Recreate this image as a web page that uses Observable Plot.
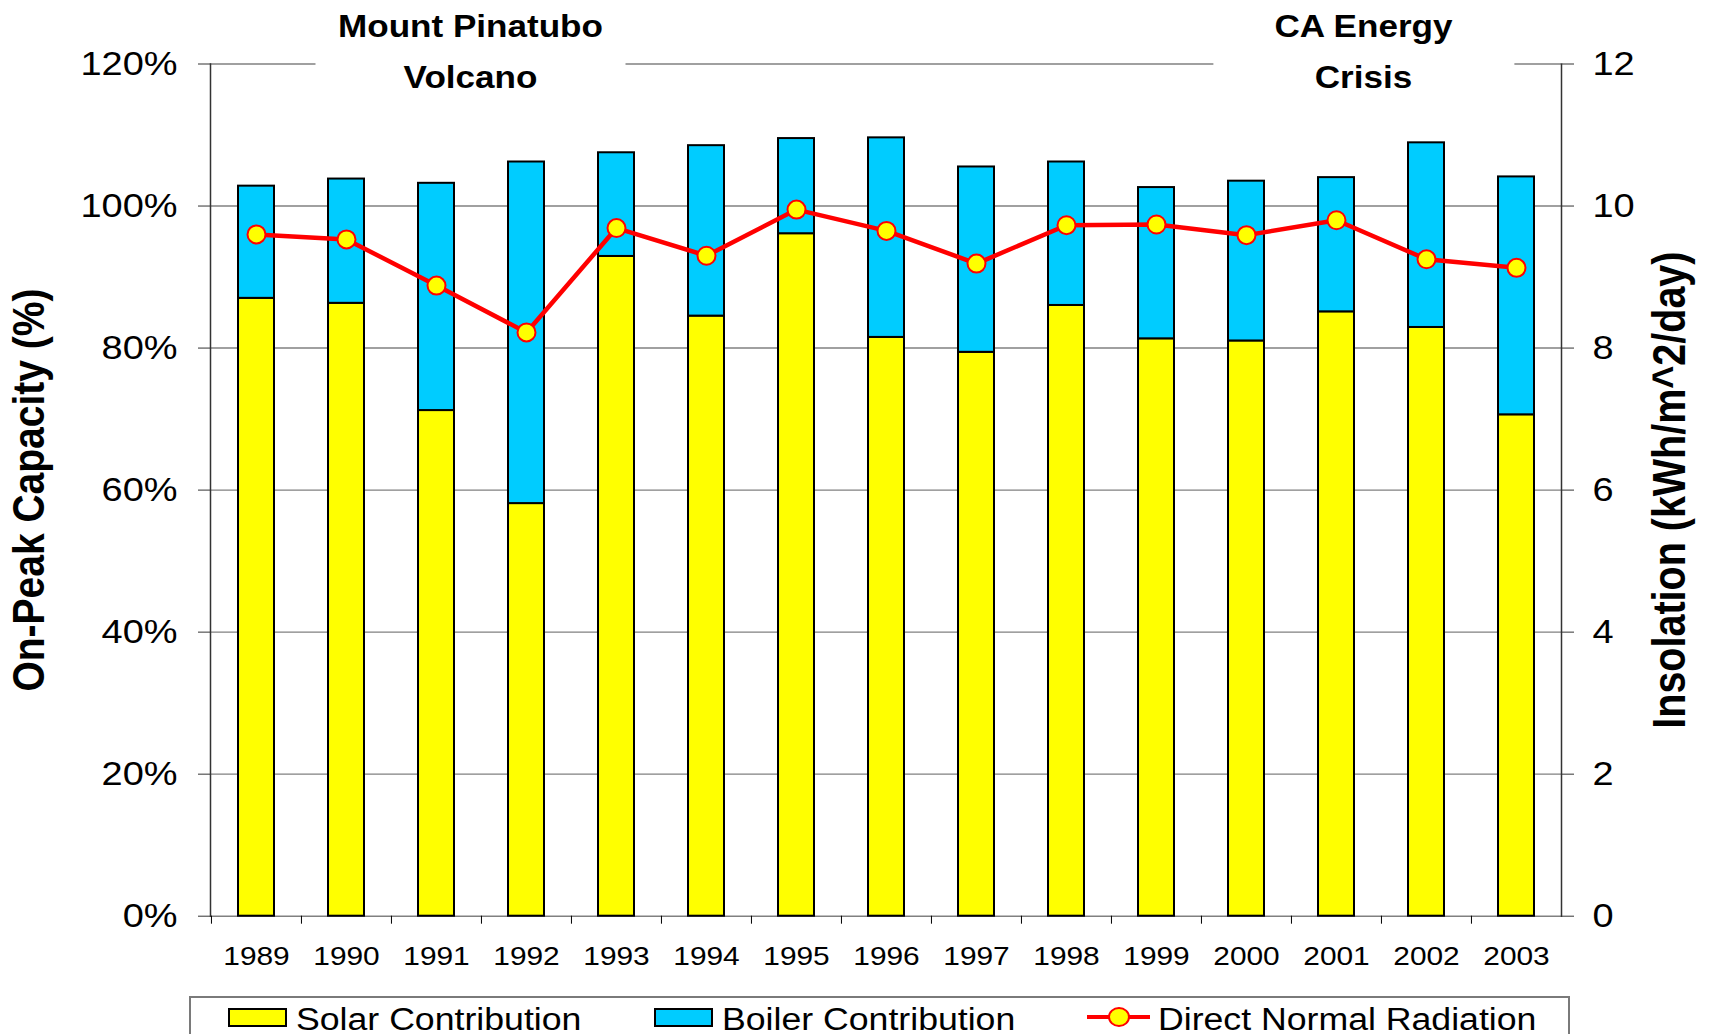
<!DOCTYPE html>
<html>
<head>
<meta charset="utf-8">
<script src="https://cdn.jsdelivr.net/npm/d3@7"></script>
<script src="https://cdn.jsdelivr.net/npm/@observablehq/plot@0.6"></script>
<style>
  html, body { margin: 0; padding: 0; background: #fff; overflow: hidden; }
  body { width: 1709px; height: 1034px; font-family: "Liberation Sans", Arial, sans-serif; }
  #legend { position: relative; width: 1709px; height: 44px; overflow: hidden; }
  #legend .box { position: absolute; left: 189px; top: 6px; width: 1381px; height: 80px; border: 2px solid #7a7a7a; box-sizing: border-box; }
  #legend .sw { position: absolute; top: 18px; width: 59px; height: 19px; border: 2px solid #000; box-sizing: border-box; }
  #legend .ln { position: absolute; top: 25px; width: 63px; height: 4px; background: #ff0000; }
  #legend .dt { position: absolute; top: 17px; width: 22px; height: 20px; border: 2px solid #ff0000; border-radius: 50%; background: #ffff00; box-sizing: border-box; }
  #legend .lt { position: absolute; top: 14px; font-size: 31px; line-height: 31px; white-space: nowrap; display: inline-block; transform: scaleX(1.15); transform-origin: left center; color: #000; }
</style>
</head>
<body>
<div id="chart"></div>
<div id="legend"></div>
<script>
// ---- data ----
const years = [1989, 1990, 1991, 1992, 1993, 1994, 1995, 1996, 1997, 1998, 1999, 2000, 2001, 2002, 2003];
const solar = [87.0, 86.3, 71.2, 58.1, 92.9, 84.5, 96.1, 81.5, 79.4, 86.0, 81.3, 81.0, 85.1, 82.9, 70.6];
const boiler = [15.8, 17.5, 32.0, 48.1, 14.6, 24.0, 13.4, 28.1, 26.1, 20.2, 21.3, 22.5, 18.9, 26.0, 33.5];
const insolation = [9.60, 9.53, 8.88, 8.22, 9.69, 9.30, 9.95, 9.65, 9.19, 9.73, 9.74, 9.59, 9.80, 9.25, 9.13];
const leftTicks = [0, 20, 40, 60, 80, 100, 120];
const rightTicks = [0, 2, 4, 6, 8, 10, 12];
const seriesNames = ["Solar Contribution", "Boiler Contribution", "Direct Normal Radiation"];
const seriesColors = ["#FFFF00", "#00CCFF", "#FF0000"];
const leftLabel = "On-Peak Capacity (%)";
const rightLabel = "Insolation (kWh/m^2/day)";
const annotations = [
  {year: 1991, text: "Mount Pinatubo\nVolcano"},
  {year: 2001, text: "CA Energy\nCrisis"}
];

// ---- layout ----
const W = 1709, H = 990, mL = 210, mR = 148, mT = 63.5, mB = 74.3;
const step = (W - mL - mR) / years.length;
const k = leftTicks[leftTicks.length - 1] / rightTicks[rightTicks.length - 1];
const S = 1.15; // horizontal text stretch of the original

const bars = years.flatMap((y, i) => [
  {year: y, series: seriesNames[0], value: solar[i]},
  {year: y, series: seriesNames[1], value: boiler[i]}
]);
const rad = years.map((y, i) => ({year: y, v: insolation[i] * k}));

const plot = Plot.plot({
  width: W, height: H,
  marginLeft: mL, marginRight: mR, marginTop: mT, marginBottom: mB,
  style: {fontFamily: "'Liberation Sans', Arial, sans-serif", color: "#000", background: "#fff", overflow: "visible"},
  x: {type: "band", domain: years, paddingInner: 0.6, paddingOuter: 0.3, align: 0.5},
  y: {domain: [0, 120]},
  color: {domain: seriesNames.slice(0, 2), range: seriesColors.slice(0, 2)},
  marks: [
    Plot.gridY(leftTicks, {stroke: "#808080", strokeOpacity: 1, strokeWidth: 1.4}),
    Plot.barY(bars, {x: "year", y: "value", fill: "series", stroke: "#000", strokeWidth: 2}),
    Plot.frame({anchor: "left", stroke: "#333", strokeWidth: 1.5}),
    Plot.frame({anchor: "right", stroke: "#333", strokeWidth: 1.5}),
    Plot.axisY(leftTicks, {anchor: "left", tickFormat: d => d + "%", tickSize: 12, tickPadding: 21, fontSize: 33, label: null, stroke: "#333"}),
    Plot.axisY(rightTicks.map(v => v * k), {anchor: "right", tickFormat: d => String(d / k), tickSize: 12, tickPadding: 19, fontSize: 33, label: null, stroke: "#333"}),
    Plot.axisX({tickSize: 0, tickPadding: 30, fontSize: 26, label: null, tickFormat: d => String(d)}),
    Plot.axisX({tickSize: 8, tickFormat: () => "", dx: -step / 2, label: null}),
    Plot.line(rad, {x: "year", y: "v", stroke: seriesColors[2], strokeWidth: 4.5}),
    Plot.dot(rad, {x: "year", y: "v", r: 9, fill: seriesColors[0], stroke: seriesColors[2], strokeWidth: 2}),
    Plot.text([annotations[0]], {x: "year", text: "text", frameAnchor: "top", lineAnchor: "middle", textAnchor: "middle", dx: 34, dy: -17.5, fontSize: 30.5, fontWeight: "bold", lineHeight: 1.645}),
    Plot.text([annotations[1]], {x: "year", text: "text", frameAnchor: "top", lineAnchor: "middle", textAnchor: "middle", dx: 27, dy: -17.5, fontSize: 30.5, fontWeight: "bold", lineHeight: 1.645}),
    Plot.text([leftLabel], {frameAnchor: "left", rotate: -90, textAnchor: "middle", lineAnchor: "middle", dx: -181, fontSize: 39, fontWeight: "bold"}),
    Plot.text([rightLabel], {frameAnchor: "right", rotate: -90, textAnchor: "middle", lineAnchor: "middle", dx: 109, fontSize: 39.5, fontWeight: "bold"})
  ]
});
document.getElementById("chart").appendChild(plot);

// stretch texts horizontally like the original (scale about each text's anchor)
plot.querySelectorAll("text").forEach(t => {
  const tr = t.getAttribute("transform") || "";
  t.setAttribute("transform", (tr + (/rotate/.test(tr) ? ` scale(1,${S})` : ` scale(${S},1)`)).trim());
});

// white boxes behind the two annotations (they interrupt the top gridline)
const annGroups = [...plot.querySelectorAll('g[aria-label="text"]')].filter(g => g.querySelector("tspan"));
const boxWidths = [310, 301];
annGroups.forEach((g, i) => {
  const bb = g.getBBox();
  const cx = bb.x + bb.width / 2;
  const r = document.createElementNS("http://www.w3.org/2000/svg", "rect");
  r.setAttribute("x", cx - boxWidths[i] / 2);
  r.setAttribute("y", bb.y);
  r.setAttribute("width", boxWidths[i]);
  r.setAttribute("height", bb.height);
  r.setAttribute("fill", "#fff");
  const t = g.getAttribute("transform");
  if (t) r.setAttribute("transform", t);
  g.parentNode.insertBefore(r, g);
});

// legend
const lg = document.getElementById("legend");
const add = (cls, left, style = {}) => {
  const e = document.createElement(cls === "lt" ? "span" : "div");
  e.className = cls; e.style.left = left + "px";
  Object.assign(e.style, style);
  lg.appendChild(e); return e;
};
add("box", 189);
add("sw", 228, {background: seriesColors[0]});
add("lt", 296).textContent = seriesNames[0];
add("sw", 654, {background: seriesColors[1]});
add("lt", 722).textContent = seriesNames[1];
add("ln", 1087);
add("dt", 1108);
add("lt", 1158).textContent = seriesNames[2];
</script>
</body>
</html>
